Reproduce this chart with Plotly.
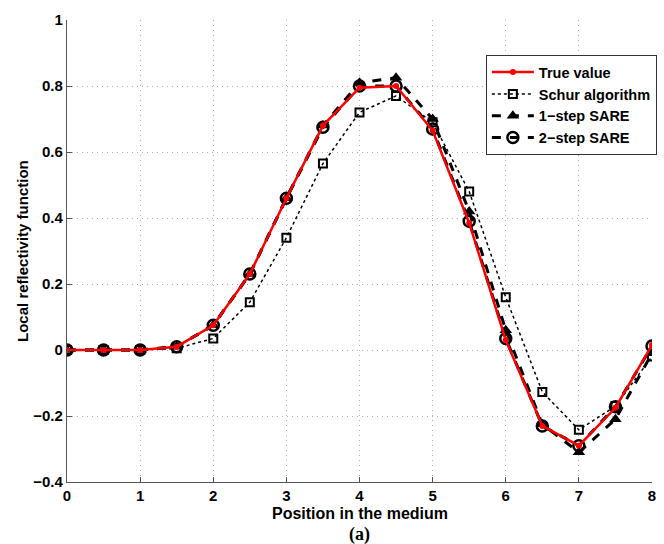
import plotly.graph_objects as go

positions = [0, 0.5, 1, 1.5, 2, 2.5, 3, 3.5, 4, 4.5, 5, 5.5, 6, 6.5, 7, 7.5, 8]
true_value = [0, 0, 0, 0.01, 0.075, 0.23, 0.46, 0.68, 0.795, 0.80, 0.665, 0.385, 0.03, -0.23, -0.29, -0.175, 0.015]
schur = [0, 0, 0, 0.005, 0.035, 0.145, 0.34, 0.565, 0.72, 0.77, 0.69, 0.48, 0.16, -0.127, -0.242, -0.17, -0.02]
sare1 = [0, 0, 0, 0.01, 0.075, 0.23, 0.46, 0.68, 0.81, 0.825, 0.70, 0.42, 0.06, -0.225, -0.31, -0.21, -0.01]
sare2 = [0, 0, 0, 0.01, 0.075, 0.23, 0.46, 0.675, 0.80, 0.80, 0.67, 0.39, 0.035, -0.23, -0.29, -0.172, 0.012]

x_ticks = [0, 1, 2, 3, 4, 5, 6, 7, 8]
y_ticks = [-0.4, -0.2, 0, 0.2, 0.4, 0.6, 0.8, 1]
y_tick_text = ["\u22120.4", "\u22120.2", "0", "0.2", "0.4", "0.6", "0.8", "1"]

fig = go.Figure()
fig.add_trace(go.Scatter(
    x=positions, y=schur, name="Schur algorithm", mode="lines+markers", legendrank=2,
    line=dict(color="black", width=1.5, dash="dot"),
    marker=dict(symbol="square-open", size=8, color="black", line=dict(width=2, color="black"))))
fig.add_trace(go.Scatter(
    x=positions, y=sare1, name="1\u2212step SARE", mode="lines+markers", legendrank=3,
    line=dict(color="black", width=3, dash="dash"),
    marker=dict(symbol="triangle-up", size=11, color="black")))
fig.add_trace(go.Scatter(
    x=positions, y=sare2, name="2\u2212step SARE", mode="lines+markers", legendrank=4,
    line=dict(color="black", width=3, dash="dash"),
    marker=dict(symbol="circle-open", size=11, color="black", line=dict(width=2.5, color="black"))))
fig.add_trace(go.Scatter(
    x=positions, y=true_value, name="True value", mode="lines+markers", legendrank=1,
    line=dict(color="#ff0000", width=2.5),
    marker=dict(symbol="circle", size=6, color="#ff0000")))

axis_font = dict(family="Liberation Sans, Arial", size=15, color="black", weight="bold")
title_font = dict(family="Liberation Sans, Arial", size=16, color="black", weight="bold")
grid_dash = "1px,4px"
fig.update_layout(
    width=664, height=544,
    margin=dict(l=67, r=12, t=20, b=62, autoexpand=False),
    paper_bgcolor="white", plot_bgcolor="white",
    font=axis_font,
    showlegend=True,
    legend=dict(x=0.716, y=0.924, xanchor="left", yanchor="top",
                bgcolor="white", bordercolor="#333333", borderwidth=1,
                itemwidth=42,
                font=dict(family="Liberation Sans, Arial", size=14.5, color="black", weight="bold"),
                tracegroupgap=0),
    annotations=[
        dict(text="Position in the medium", xref="paper", yref="paper", x=0.5, y=-0.068,
             xanchor="center", yanchor="middle", showarrow=False, font=title_font),
        dict(text="(a)", xref="paper", yref="paper", x=0.5, y=-0.113,
             xanchor="center", yanchor="middle", showarrow=False,
             font=dict(family="Liberation Serif, Times New Roman", size=18, color="black")),
        dict(text="Local reflectivity function", xref="paper", yref="paper", x=-0.077, y=0.5,
             xanchor="center", yanchor="middle", showarrow=False, textangle=-90, font=axis_font),
    ],
)
fig.update_xaxes(
    range=[0, 8], tickvals=x_ticks, ticks="inside", ticklen=5, tickcolor="#555555",
    showline=True, linecolor="#555555", linewidth=1.2, mirror=False, automargin=False,
    showgrid=True, gridcolor="#b0b0b0", griddash=grid_dash, gridwidth=1, zeroline=False,
    tickfont=axis_font,
)
fig.update_yaxes(
    range=[-0.4, 1], tickvals=y_ticks, ticktext=y_tick_text, ticks="inside", ticklen=5, tickcolor="#555555",
    showline=True, linecolor="#555555", linewidth=1.2, mirror=False, automargin=False,
    showgrid=True, gridcolor="#b0b0b0", griddash=grid_dash, gridwidth=1, zeroline=False,
    tickfont=axis_font,
)
fig.write_html("out.html", config={"displayModeBar": False},
               post_script="document.body.style.margin='0';")
